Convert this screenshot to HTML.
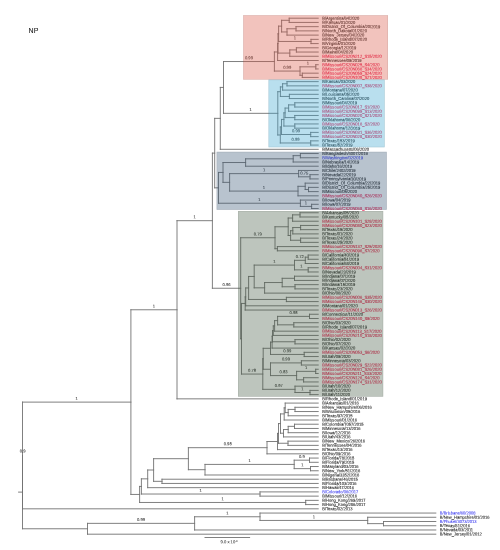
<!DOCTYPE html><html><head><meta charset="utf-8"><style>html,body{margin:0;padding:0;background:#fff;width:500px;height:550px;overflow:hidden}svg{display:block}text{font-family:"Liberation Sans",Arial,sans-serif}</style></head><body>
<svg width="500" height="550" viewBox="0 0 500 550">
<rect width="500" height="550" fill="#fff"/>
<text x="28.6" y="33.2" font-size="7" fill="#2a2a2a" stroke="#2a2a2a" stroke-width="0.15">NP</text>
<g stroke="#727272" stroke-width="0.9" stroke-linecap="square" fill="none">
<path d="M18.60 492.12L22.50 492.12"/>
<path d="M22.50 455.47L22.50 528.78"/>
<path d="M22.50 402.11L22.50 508.82"/>
<path d="M22.50 402.11L130.90 402.11"/>
<path d="M130.90 309.77L130.90 494.45"/>
<path d="M130.90 309.77L177.00 309.77"/>
<path d="M177.00 220.68L177.00 398.85"/>
<path d="M177.00 220.68L212.40 220.68"/>
<path d="M212.40 153.11L212.40 288.25"/>
<path d="M212.40 153.11L214.70 153.11"/>
<path d="M214.70 118.37L214.70 187.84"/>
<path d="M214.70 118.37L220.30 118.37"/>
<path d="M220.30 87.43L220.30 149.31"/>
<path d="M220.30 87.43L223.50 87.43"/>
<path d="M223.50 61.52L223.50 113.33"/>
<path d="M223.50 61.52L274.40 61.52"/>
<path d="M274.40 51.97L274.40 71.07"/>
<path d="M274.40 51.97L277.60 51.97"/>
<path d="M277.60 43.44L277.60 60.50"/>
<path d="M277.60 43.44L278.00 43.44"/>
<path d="M278.00 33.80L278.00 53.09"/>
<path d="M278.00 33.80L278.60 33.80"/>
<path d="M278.60 26.13L278.60 41.46"/>
<path d="M278.60 26.13L281.60 26.13"/>
<path d="M281.60 20.31L281.60 31.95"/>
<path d="M281.60 20.31L289.20 20.31"/>
<path d="M289.20 18.20L289.20 22.43"/>
<path d="M289.20 18.20L318.20 18.20"/>
<path d="M289.20 22.43L318.20 22.43"/>
<path d="M281.60 31.95L287.00 31.95"/>
<path d="M287.00 28.77L287.00 35.12"/>
<path d="M287.00 28.77L296.00 28.77"/>
<path d="M296.00 26.66L296.00 30.89"/>
<path d="M296.00 26.66L318.20 26.66"/>
<path d="M296.00 30.89L318.20 30.89"/>
<path d="M287.00 35.12L318.20 35.12"/>
<path d="M278.60 41.46L311.00 41.46"/>
<path d="M311.00 39.35L311.00 43.58"/>
<path d="M311.00 39.35L318.20 39.35"/>
<path d="M311.00 43.58L318.20 43.58"/>
<path d="M278.00 53.09L289.80 53.09"/>
<path d="M289.80 49.92L289.80 56.27"/>
<path d="M289.80 49.92L296.40 49.92"/>
<path d="M296.40 47.81L296.40 52.04"/>
<path d="M296.40 47.81L318.20 47.81"/>
<path d="M296.40 52.04L318.20 52.04"/>
<path d="M289.80 56.27L318.20 56.27"/>
<path d="M277.60 60.50L318.20 60.50"/>
<path d="M274.40 71.07L300.00 71.07"/>
<path d="M300.00 66.84L300.00 75.30"/>
<path d="M300.00 66.84L315.80 66.84"/>
<path d="M315.80 64.72L315.80 68.95"/>
<path d="M315.80 64.72L318.20 64.72"/>
<path d="M315.80 68.95L318.20 68.95"/>
<path d="M300.00 75.30L302.30 75.30"/>
<path d="M302.30 73.18L302.30 77.41"/>
<path d="M302.30 73.18L318.20 73.18"/>
<path d="M302.30 77.41L318.20 77.41"/>
<path d="M223.50 113.33L277.80 113.33"/>
<path d="M277.80 91.69L277.80 134.97"/>
<path d="M277.80 91.69L280.40 91.69"/>
<path d="M280.40 86.93L280.40 96.45"/>
<path d="M280.40 86.93L282.60 86.93"/>
<path d="M282.60 83.76L282.60 90.10"/>
<path d="M282.60 83.76L287.00 83.76"/>
<path d="M287.00 81.64L287.00 85.87"/>
<path d="M287.00 81.64L318.20 81.64"/>
<path d="M287.00 85.87L318.20 85.87"/>
<path d="M282.60 90.10L318.20 90.10"/>
<path d="M280.40 96.45L289.40 96.45"/>
<path d="M289.40 94.33L289.40 98.56"/>
<path d="M289.40 94.33L318.20 94.33"/>
<path d="M289.40 98.56L318.20 98.56"/>
<path d="M277.80 134.97L280.30 134.97"/>
<path d="M280.30 126.98L280.30 142.97"/>
<path d="M280.30 126.98L281.50 126.98"/>
<path d="M281.50 119.44L281.50 134.51"/>
<path d="M281.50 119.44L283.90 119.44"/>
<path d="M283.90 112.84L283.90 126.05"/>
<path d="M283.90 112.84L285.10 112.84"/>
<path d="M285.10 108.08L285.10 117.59"/>
<path d="M285.10 108.08L288.60 108.08"/>
<path d="M288.60 104.90L288.60 111.25"/>
<path d="M288.60 104.90L294.80 104.90"/>
<path d="M294.80 102.79L294.80 107.02"/>
<path d="M294.80 102.79L318.20 102.79"/>
<path d="M294.80 107.02L318.20 107.02"/>
<path d="M288.60 111.25L318.20 111.25"/>
<path d="M285.10 117.59L294.80 117.59"/>
<path d="M294.80 115.48L294.80 119.71"/>
<path d="M294.80 115.48L318.20 115.48"/>
<path d="M294.80 119.71L318.20 119.71"/>
<path d="M283.90 126.05L294.80 126.05"/>
<path d="M294.80 123.94L294.80 128.17"/>
<path d="M294.80 123.94L318.20 123.94"/>
<path d="M294.80 128.17L318.20 128.17"/>
<path d="M281.50 134.51L310.70 134.51"/>
<path d="M310.70 132.40L310.70 136.63"/>
<path d="M310.70 132.40L318.20 132.40"/>
<path d="M310.70 136.63L318.20 136.63"/>
<path d="M280.30 142.97L310.70 142.97"/>
<path d="M310.70 140.86L310.70 145.08"/>
<path d="M310.70 140.86L318.20 140.86"/>
<path d="M310.70 145.08L318.20 145.08"/>
<path d="M220.30 149.31L318.20 149.31"/>
<path d="M214.70 187.84L218.50 187.84"/>
<path d="M218.50 172.44L218.50 203.24"/>
<path d="M218.50 172.44L223.00 172.44"/>
<path d="M223.00 162.53L223.00 182.36"/>
<path d="M223.00 162.53L245.60 162.53"/>
<path d="M245.60 158.83L245.60 166.23"/>
<path d="M245.60 158.83L293.20 158.83"/>
<path d="M293.20 155.66L293.20 162.00"/>
<path d="M293.20 155.66L300.40 155.66"/>
<path d="M300.40 153.54L300.40 157.77"/>
<path d="M300.40 153.54L318.20 153.54"/>
<path d="M300.40 157.77L318.20 157.77"/>
<path d="M293.20 162.00L318.20 162.00"/>
<path d="M245.60 166.23L318.20 166.23"/>
<path d="M223.00 182.36L229.60 182.36"/>
<path d="M229.60 173.63L229.60 191.08"/>
<path d="M229.60 173.63L298.60 173.63"/>
<path d="M298.60 170.46L298.60 176.81"/>
<path d="M298.60 170.46L318.20 170.46"/>
<path d="M298.60 176.81L310.00 176.81"/>
<path d="M310.00 174.69L310.00 178.92"/>
<path d="M310.00 174.69L318.20 174.69"/>
<path d="M310.00 178.92L318.20 178.92"/>
<path d="M229.60 191.08L298.00 191.08"/>
<path d="M298.00 186.32L298.00 195.84"/>
<path d="M298.00 186.32L305.20 186.32"/>
<path d="M305.20 183.15L305.20 189.49"/>
<path d="M305.20 183.15L318.20 183.15"/>
<path d="M305.20 189.49L308.50 189.49"/>
<path d="M308.50 187.38L308.50 191.61"/>
<path d="M308.50 187.38L318.20 187.38"/>
<path d="M308.50 191.61L318.20 191.61"/>
<path d="M298.00 195.84L318.20 195.84"/>
<path d="M218.50 203.24L300.40 203.24"/>
<path d="M300.40 200.07L300.40 206.41"/>
<path d="M300.40 200.07L318.20 200.07"/>
<path d="M300.40 206.41L311.60 206.41"/>
<path d="M311.60 204.30L311.60 208.53"/>
<path d="M311.60 204.30L318.20 204.30"/>
<path d="M311.60 208.53L318.20 208.53"/>
<path d="M212.40 288.25L240.70 288.25"/>
<path d="M240.70 237.74L240.70 338.76"/>
<path d="M240.70 237.74L275.00 237.74"/>
<path d="M275.00 226.77L275.00 248.71"/>
<path d="M275.00 226.77L288.20 226.77"/>
<path d="M288.20 218.04L288.20 235.49"/>
<path d="M288.20 218.04L292.60 218.04"/>
<path d="M292.60 214.87L292.60 221.22"/>
<path d="M292.60 214.87L300.00 214.87"/>
<path d="M300.00 212.76L300.00 216.99"/>
<path d="M300.00 212.76L318.20 212.76"/>
<path d="M300.00 216.99L318.20 216.99"/>
<path d="M292.60 221.22L318.20 221.22"/>
<path d="M288.20 235.49L290.60 235.49"/>
<path d="M290.60 230.73L290.60 240.25"/>
<path d="M290.60 230.73L292.80 230.73"/>
<path d="M292.80 227.56L292.80 233.90"/>
<path d="M292.80 227.56L300.60 227.56"/>
<path d="M300.60 225.45L300.60 229.67"/>
<path d="M300.60 225.45L318.20 225.45"/>
<path d="M300.60 229.67L318.20 229.67"/>
<path d="M292.80 233.90L318.20 233.90"/>
<path d="M290.60 240.25L300.60 240.25"/>
<path d="M300.60 238.13L300.60 242.36"/>
<path d="M300.60 238.13L318.20 238.13"/>
<path d="M300.60 242.36L318.20 242.36"/>
<path d="M275.00 248.71L277.40 248.71"/>
<path d="M277.40 246.59L277.40 250.82"/>
<path d="M277.40 246.59L318.20 246.59"/>
<path d="M277.40 250.82L318.20 250.82"/>
<path d="M240.70 338.76L241.50 338.76"/>
<path d="M241.50 303.46L241.50 374.06"/>
<path d="M241.50 303.46L245.20 303.46"/>
<path d="M245.20 296.88L245.20 310.04"/>
<path d="M245.20 296.88L245.70 296.88"/>
<path d="M245.70 287.96L245.70 305.81"/>
<path d="M245.70 287.96L248.60 287.96"/>
<path d="M248.60 276.46L248.60 299.46"/>
<path d="M248.60 276.46L254.20 276.46"/>
<path d="M254.20 265.10L254.20 287.83"/>
<path d="M254.20 265.10L294.50 265.10"/>
<path d="M294.50 260.34L294.50 269.86"/>
<path d="M294.50 260.34L305.30 260.34"/>
<path d="M305.30 257.17L305.30 263.51"/>
<path d="M305.30 257.17L308.20 257.17"/>
<path d="M308.20 255.05L308.20 259.28"/>
<path d="M308.20 255.05L318.20 255.05"/>
<path d="M308.20 259.28L318.20 259.28"/>
<path d="M305.30 263.51L318.20 263.51"/>
<path d="M294.50 269.86L308.20 269.86"/>
<path d="M308.20 267.74L308.20 271.97"/>
<path d="M308.20 267.74L318.20 267.74"/>
<path d="M308.20 271.97L318.20 271.97"/>
<path d="M254.20 287.83L264.60 287.83"/>
<path d="M264.60 282.54L264.60 293.12"/>
<path d="M264.60 282.54L282.20 282.54"/>
<path d="M282.20 278.31L282.20 286.77"/>
<path d="M282.20 278.31L294.50 278.31"/>
<path d="M294.50 276.20L294.50 280.43"/>
<path d="M294.50 276.20L318.20 276.20"/>
<path d="M294.50 280.43L318.20 280.43"/>
<path d="M282.20 286.77L295.00 286.77"/>
<path d="M295.00 284.66L295.00 288.89"/>
<path d="M295.00 284.66L318.20 284.66"/>
<path d="M295.00 288.89L318.20 288.89"/>
<path d="M264.60 293.12L318.20 293.12"/>
<path d="M248.60 299.46L286.40 299.46"/>
<path d="M286.40 297.35L286.40 301.58"/>
<path d="M286.40 297.35L318.20 297.35"/>
<path d="M286.40 301.58L318.20 301.58"/>
<path d="M245.70 305.81L318.20 305.81"/>
<path d="M245.20 310.04L318.20 310.04"/>
<path d="M241.50 374.06L262.80 374.06"/>
<path d="M262.80 358.77L262.80 389.34"/>
<path d="M262.80 358.77L263.20 358.77"/>
<path d="M263.20 348.30L263.20 369.25"/>
<path d="M263.20 348.30L270.50 348.30"/>
<path d="M270.50 342.15L270.50 354.45"/>
<path d="M270.50 342.15L272.10 342.15"/>
<path d="M272.10 336.21L272.10 348.10"/>
<path d="M272.10 336.21L272.50 336.21"/>
<path d="M272.50 330.65L272.50 341.76"/>
<path d="M272.50 330.65L273.30 330.65"/>
<path d="M273.30 325.90L273.30 335.41"/>
<path d="M273.30 325.90L274.60 325.90"/>
<path d="M274.60 320.61L274.60 331.18"/>
<path d="M274.60 320.61L277.60 320.61"/>
<path d="M277.60 316.38L277.60 324.84"/>
<path d="M277.60 316.38L309.50 316.38"/>
<path d="M309.50 314.26L309.50 318.49"/>
<path d="M309.50 314.26L318.20 314.26"/>
<path d="M309.50 318.49L318.20 318.49"/>
<path d="M277.60 324.84L293.80 324.84"/>
<path d="M293.80 322.72L293.80 326.95"/>
<path d="M293.80 322.72L318.20 322.72"/>
<path d="M293.80 326.95L318.20 326.95"/>
<path d="M274.60 331.18L318.20 331.18"/>
<path d="M273.30 335.41L318.20 335.41"/>
<path d="M272.50 341.76L295.00 341.76"/>
<path d="M295.00 339.64L295.00 343.87"/>
<path d="M295.00 339.64L318.20 339.64"/>
<path d="M295.00 343.87L318.20 343.87"/>
<path d="M272.10 348.10L318.20 348.10"/>
<path d="M270.50 354.45L304.20 354.45"/>
<path d="M304.20 352.33L304.20 356.56"/>
<path d="M304.20 352.33L318.20 352.33"/>
<path d="M304.20 356.56L318.20 356.56"/>
<path d="M263.20 369.25L270.50 369.25"/>
<path d="M270.50 362.90L270.50 375.59"/>
<path d="M270.50 362.90L301.40 362.90"/>
<path d="M301.40 360.79L301.40 365.02"/>
<path d="M301.40 360.79L318.20 360.79"/>
<path d="M301.40 365.02L318.20 365.02"/>
<path d="M270.50 375.59L296.60 375.59"/>
<path d="M296.60 371.36L296.60 379.82"/>
<path d="M296.60 371.36L315.70 371.36"/>
<path d="M315.70 369.25L315.70 373.48"/>
<path d="M315.70 369.25L318.20 369.25"/>
<path d="M315.70 373.48L318.20 373.48"/>
<path d="M296.60 379.82L303.60 379.82"/>
<path d="M303.60 377.71L303.60 381.94"/>
<path d="M303.60 377.71L318.20 377.71"/>
<path d="M303.60 381.94L318.20 381.94"/>
<path d="M262.80 389.34L295.00 389.34"/>
<path d="M295.00 386.17L295.00 392.51"/>
<path d="M295.00 386.17L318.20 386.17"/>
<path d="M295.00 392.51L310.00 392.51"/>
<path d="M310.00 390.40L310.00 394.63"/>
<path d="M310.00 390.40L318.20 390.40"/>
<path d="M310.00 394.63L318.20 394.63"/>
<path d="M177.00 398.85L318.20 398.85"/>
<path d="M130.90 494.45L139.60 494.45"/>
<path d="M139.60 486.43L139.60 502.48"/>
<path d="M139.60 486.43L141.40 486.43"/>
<path d="M141.40 478.84L141.40 494.02"/>
<path d="M141.40 478.84L147.70 478.84"/>
<path d="M147.70 470.01L147.70 487.67"/>
<path d="M147.70 470.01L153.60 470.01"/>
<path d="M153.60 458.69L153.60 481.33"/>
<path d="M153.60 458.69L188.40 458.69"/>
<path d="M188.40 447.68L188.40 469.70"/>
<path d="M188.40 447.68L267.00 447.68"/>
<path d="M267.00 441.51L267.00 453.84"/>
<path d="M267.00 441.51L277.50 441.51"/>
<path d="M277.50 433.42L277.50 449.61"/>
<path d="M277.50 433.42L278.50 433.42"/>
<path d="M278.50 423.57L278.50 443.26"/>
<path d="M278.50 423.57L280.50 423.57"/>
<path d="M280.50 413.92L280.50 433.22"/>
<path d="M280.50 413.92L284.20 413.92"/>
<path d="M284.20 407.84L284.20 420.00"/>
<path d="M284.20 407.84L285.20 407.84"/>
<path d="M285.20 403.08L285.20 412.60"/>
<path d="M285.20 403.08L318.20 403.08"/>
<path d="M285.20 412.60L288.20 412.60"/>
<path d="M288.20 409.43L288.20 415.77"/>
<path d="M288.20 409.43L295.00 409.43"/>
<path d="M295.00 407.31L295.00 411.54"/>
<path d="M295.00 407.31L318.20 407.31"/>
<path d="M295.00 411.54L318.20 411.54"/>
<path d="M288.20 415.77L318.20 415.77"/>
<path d="M284.20 420.00L318.20 420.00"/>
<path d="M280.50 433.22L283.50 433.22"/>
<path d="M283.50 429.52L283.50 436.92"/>
<path d="M283.50 429.52L288.20 429.52"/>
<path d="M288.20 426.35L288.20 432.69"/>
<path d="M288.20 426.35L294.50 426.35"/>
<path d="M294.50 424.23L294.50 428.46"/>
<path d="M294.50 424.23L318.20 424.23"/>
<path d="M294.50 428.46L318.20 428.46"/>
<path d="M288.20 432.69L318.20 432.69"/>
<path d="M283.50 436.92L318.20 436.92"/>
<path d="M278.50 443.26L288.00 443.26"/>
<path d="M288.00 441.15L288.00 445.38"/>
<path d="M288.00 441.15L318.20 441.15"/>
<path d="M288.00 445.38L318.20 445.38"/>
<path d="M277.50 449.61L318.20 449.61"/>
<path d="M267.00 453.84L318.20 453.84"/>
<path d="M188.40 469.70L205.00 469.70"/>
<path d="M205.00 464.41L205.00 474.99"/>
<path d="M205.00 464.41L294.20 464.41"/>
<path d="M294.20 460.18L294.20 468.64"/>
<path d="M294.20 460.18L309.50 460.18"/>
<path d="M309.50 458.07L309.50 462.30"/>
<path d="M309.50 458.07L318.20 458.07"/>
<path d="M309.50 462.30L318.20 462.30"/>
<path d="M294.20 468.64L310.50 468.64"/>
<path d="M310.50 466.53L310.50 470.76"/>
<path d="M310.50 466.53L318.20 466.53"/>
<path d="M310.50 470.76L318.20 470.76"/>
<path d="M205.00 474.99L318.20 474.99"/>
<path d="M153.60 481.33L162.00 481.33"/>
<path d="M162.00 479.22L162.00 483.44"/>
<path d="M162.00 479.22L318.20 479.22"/>
<path d="M162.00 483.44L318.20 483.44"/>
<path d="M147.70 487.67L318.20 487.67"/>
<path d="M141.40 494.02L260.00 494.02"/>
<path d="M260.00 491.90L260.00 496.13"/>
<path d="M260.00 491.90L318.20 491.90"/>
<path d="M260.00 496.13L318.20 496.13"/>
<path d="M139.60 502.48L305.70 502.48"/>
<path d="M305.70 500.36L305.70 504.59"/>
<path d="M305.70 500.36L318.20 500.36"/>
<path d="M305.70 504.59L318.20 504.59"/>
<path d="M22.50 508.82L318.20 508.82"/>
<path d="M22.50 528.78L87.50 528.78"/>
<path d="M87.50 523.36L87.50 534.20"/>
<path d="M87.50 523.36L194.60 523.36"/>
<path d="M194.60 516.75L194.60 529.97"/>
<path d="M194.60 516.75L260.00 516.75"/>
<path d="M260.00 513.05L260.00 520.45"/>
<path d="M260.00 513.05L435.80 513.05"/>
<path d="M260.00 520.45L367.70 520.45"/>
<path d="M367.70 517.28L367.70 523.63"/>
<path d="M367.70 517.28L435.80 517.28"/>
<path d="M367.70 523.63L383.50 523.63"/>
<path d="M383.50 521.51L383.50 525.74"/>
<path d="M383.50 521.51L435.80 521.51"/>
<path d="M383.50 525.74L435.80 525.74"/>
<path d="M194.60 529.97L435.80 529.97"/>
<path d="M87.50 534.20L435.80 534.20"/>
<path d="M205 537.5L249.6 537.5"/>
</g>
<g font-size="4.15" fill="#333" stroke="#333" stroke-width="0.06" text-anchor="middle" transform="matrix(1 0.0005 0 1 0 -0.13)">
<text x="76.70" y="399.81">1</text>
<text x="153.95" y="307.47">1</text>
<text x="194.70" y="218.38">1</text>
<text x="248.95" y="59.22">0.99</text>
<text x="294.80" y="39.16">1</text>
<text x="287.20" y="68.77">0.99</text>
<text x="307.90" y="64.54">1</text>
<text x="250.65" y="111.03">1</text>
<text x="296.10" y="132.21">0.99</text>
<text x="295.50" y="140.67">0.99</text>
<text x="264.10" y="171.33">1</text>
<text x="304.30" y="174.51">0.75</text>
<text x="263.80" y="188.78">1</text>
<text x="259.45" y="200.94">1</text>
<text x="306.00" y="204.11">1</text>
<text x="226.55" y="285.95">0.96</text>
<text x="257.85" y="235.44">0.79</text>
<text x="274.35" y="262.80">1</text>
<text x="299.90" y="258.04">0.72</text>
<text x="301.35" y="267.56">1</text>
<text x="252.15" y="371.76">0.78</text>
<text x="293.55" y="314.08">0.98</text>
<text x="287.35" y="352.15">0.99</text>
<text x="285.95" y="360.60">0.99</text>
<text x="283.55" y="373.29">0.83</text>
<text x="306.15" y="369.06">1</text>
<text x="278.90" y="387.04">0.97</text>
<text x="302.50" y="390.21">1</text>
<text x="227.70" y="445.38">0.98</text>
<text x="249.60" y="462.11">1</text>
<text x="301.85" y="457.88">0.9</text>
<text x="302.35" y="466.34">1</text>
<text x="200.70" y="491.72">1</text>
<text x="222.65" y="500.18">1</text>
<text x="141.05" y="521.06">0.99</text>
<text x="227.30" y="514.45">1</text>
<text x="313.85" y="518.15">1</text>
<text x="22.6" y="452.70">0.9</text>
<text x="229" y="543.20">9.0 x 10<tspan font-size="2.6" dy="-1.3">-3</tspan></text>
</g>
<g font-size="4.35" stroke-width="0.08">
<text transform="matrix(0.935 0.0005 0 1 322.2 19.64)" fill="#222" stroke="#222">B/Argentina/64/2020</text>
<text transform="matrix(0.935 0.0005 0 1 322.2 23.87)" fill="#222" stroke="#222">B/Kansas/01/2020</text>
<text transform="matrix(0.935 0.0005 0 1 322.2 28.10)" fill="#222" stroke="#222">B/District_Of_Columbia/20/2019</text>
<text transform="matrix(0.935 0.0005 0 1 322.2 32.33)" fill="#222" stroke="#222">B/North_Dakota/01/2020</text>
<text transform="matrix(0.935 0.0005 0 1 322.2 36.56)" fill="#222" stroke="#222">B/New_Jersey/04/2020</text>
<text transform="matrix(0.935 0.0005 0 1 322.2 40.79)" fill="#222" stroke="#222">B/Rhode_Island/07/2020</text>
<text transform="matrix(0.935 0.0005 0 1 322.2 45.02)" fill="#222" stroke="#222">B/Virginia/01/2020</text>
<text transform="matrix(0.935 0.0005 0 1 322.2 49.25)" fill="#222" stroke="#222">B/Georgia/12/2019</text>
<text transform="matrix(0.935 0.0005 0 1 322.2 53.47)" fill="#222" stroke="#222">B/Maine/04/2020</text>
<text transform="matrix(0.935 0.0005 0 1 322.2 57.70)" fill="#e61446" stroke="#e61446">B/Missouri/CS20N212_S15/2020</text>
<text transform="matrix(0.935 0.0005 0 1 322.2 61.93)" fill="#222" stroke="#222">B/Tennessee/09/2019</text>
<text transform="matrix(0.935 0.0005 0 1 322.2 66.16)" fill="#e61446" stroke="#e61446">B/Missouri/CS20N025_S4/2020</text>
<text transform="matrix(0.935 0.0005 0 1 322.2 70.39)" fill="#e61446" stroke="#e61446">B/Missouri/CS20N066_S34/2020</text>
<text transform="matrix(0.935 0.0005 0 1 322.2 74.62)" fill="#e61446" stroke="#e61446">B/Missouri/CS20N055_S24/2020</text>
<text transform="matrix(0.935 0.0005 0 1 322.2 78.85)" fill="#e61446" stroke="#e61446">B/Missouri/CS20N108_S27/2020</text>
<text transform="matrix(0.935 0.0005 0 1 322.2 83.08)" fill="#222" stroke="#222">B/Kansas/03/2020</text>
<text transform="matrix(0.935 0.0005 0 1 322.2 87.31)" fill="#e61446" stroke="#e61446">B/Missouri/CS20N007_S38/2020</text>
<text transform="matrix(0.935 0.0005 0 1 322.2 91.54)" fill="#222" stroke="#222">B/Montana/07/2020</text>
<text transform="matrix(0.935 0.0005 0 1 322.2 95.77)" fill="#222" stroke="#222">B/Louisiana/05/2020</text>
<text transform="matrix(0.935 0.0005 0 1 322.2 100.00)" fill="#222" stroke="#222">B/North_Carolina/07/2020</text>
<text transform="matrix(0.935 0.0005 0 1 322.2 104.23)" fill="#222" stroke="#222">B/Missouri/04/2019</text>
<text transform="matrix(0.935 0.0005 0 1 322.2 108.46)" fill="#e61446" stroke="#e61446">B/Missouri/CS20N017_S1/2020</text>
<text transform="matrix(0.935 0.0005 0 1 322.2 112.69)" fill="#e61446" stroke="#e61446">B/Missouri/CS20N095_S13/2020</text>
<text transform="matrix(0.935 0.0005 0 1 322.2 116.92)" fill="#e61446" stroke="#e61446">B/Missouri/CS20N020_S21/2020</text>
<text transform="matrix(0.935 0.0005 0 1 322.2 121.15)" fill="#222" stroke="#222">B/Oklahoma/06/2020</text>
<text transform="matrix(0.935 0.0005 0 1 322.2 125.38)" fill="#e61446" stroke="#e61446">B/Missouri/CS20N016_S2/2020</text>
<text transform="matrix(0.935 0.0005 0 1 322.2 129.61)" fill="#222" stroke="#222">B/Oklahoma/12/2019</text>
<text transform="matrix(0.935 0.0005 0 1 322.2 133.84)" fill="#e61446" stroke="#e61446">B/Missouri/CS20N031_S36/2020</text>
<text transform="matrix(0.935 0.0005 0 1 322.2 138.06)" fill="#e61446" stroke="#e61446">B/Missouri/CS20N028_S30/2020</text>
<text transform="matrix(0.935 0.0005 0 1 322.2 142.29)" fill="#222" stroke="#222">B/Texas/153/2019</text>
<text transform="matrix(0.935 0.0005 0 1 322.2 146.52)" fill="#222" stroke="#222">B/Texas/52/2019</text>
<text transform="matrix(0.935 0.0005 0 1 322.2 150.75)" fill="#222" stroke="#222">B/Massachusetts/06/2020</text>
<text transform="matrix(0.935 0.0005 0 1 322.2 154.98)" fill="#222" stroke="#222">B/Bangladesh/4007/2019</text>
<text transform="matrix(0.935 0.0005 0 1 322.2 159.21)" fill="#3c3cf0" stroke="#3c3cf0">B/Washington/02/2019</text>
<text transform="matrix(0.935 0.0005 0 1 322.2 163.44)" fill="#222" stroke="#222">B/Nebraska/14/2019</text>
<text transform="matrix(0.935 0.0005 0 1 322.2 167.67)" fill="#222" stroke="#222">B/Idaho/16/2019</text>
<text transform="matrix(0.935 0.0005 0 1 322.2 171.90)" fill="#222" stroke="#222">B/Chile/2402/2019</text>
<text transform="matrix(0.935 0.0005 0 1 322.2 176.13)" fill="#222" stroke="#222">B/Nevada/22/2019</text>
<text transform="matrix(0.935 0.0005 0 1 322.2 180.36)" fill="#222" stroke="#222">B/Pennsylvania/30/2019</text>
<text transform="matrix(0.935 0.0005 0 1 322.2 184.59)" fill="#222" stroke="#222">B/District_Of_Columbia/22/2019</text>
<text transform="matrix(0.935 0.0005 0 1 322.2 188.82)" fill="#222" stroke="#222">B/District_Of_Columbia/25/2019</text>
<text transform="matrix(0.935 0.0005 0 1 322.2 193.05)" fill="#222" stroke="#222">B/Missouri/05/2020</text>
<text transform="matrix(0.935 0.0005 0 1 322.2 197.28)" fill="#e61446" stroke="#e61446">B/Missouri/CS20N040_S26/2020</text>
<text transform="matrix(0.935 0.0005 0 1 322.2 201.51)" fill="#222" stroke="#222">B/Iowa/04/2019</text>
<text transform="matrix(0.935 0.0005 0 1 322.2 205.74)" fill="#222" stroke="#222">B/Iowa/07/2019</text>
<text transform="matrix(0.935 0.0005 0 1 322.2 209.97)" fill="#e61446" stroke="#e61446">B/Missouri/CS20N068_S16/2020</text>
<text transform="matrix(0.935 0.0005 0 1 322.2 214.20)" fill="#222" stroke="#222">B/Arkansas/05/2020</text>
<text transform="matrix(0.935 0.0005 0 1 322.2 218.43)" fill="#222" stroke="#222">B/Kentucky/05/2020</text>
<text transform="matrix(0.935 0.0005 0 1 322.2 222.65)" fill="#e61446" stroke="#e61446">B/Missouri/CS20N101_S28/2020</text>
<text transform="matrix(0.935 0.0005 0 1 322.2 226.88)" fill="#e61446" stroke="#e61446">B/Missouri/CS20N080_S23/2020</text>
<text transform="matrix(0.935 0.0005 0 1 322.2 231.11)" fill="#222" stroke="#222">B/Texas/15/2020</text>
<text transform="matrix(0.935 0.0005 0 1 322.2 235.34)" fill="#222" stroke="#222">B/Texas/01/2020</text>
<text transform="matrix(0.935 0.0005 0 1 322.2 239.57)" fill="#222" stroke="#222">B/Texas/24/2020</text>
<text transform="matrix(0.935 0.0005 0 1 322.2 243.80)" fill="#222" stroke="#222">B/Texas/25/2020</text>
<text transform="matrix(0.935 0.0005 0 1 322.2 248.03)" fill="#e61446" stroke="#e61446">B/Missouri/CS20N137_S25/2020</text>
<text transform="matrix(0.935 0.0005 0 1 322.2 252.26)" fill="#e61446" stroke="#e61446">B/Missouri/CS20N096_S7/2020</text>
<text transform="matrix(0.935 0.0005 0 1 322.2 256.49)" fill="#222" stroke="#222">B/California/40/2019</text>
<text transform="matrix(0.935 0.0005 0 1 322.2 260.72)" fill="#222" stroke="#222">B/California/51/2019</text>
<text transform="matrix(0.935 0.0005 0 1 322.2 264.95)" fill="#222" stroke="#222">B/California/68/2019</text>
<text transform="matrix(0.935 0.0005 0 1 322.2 269.18)" fill="#e61446" stroke="#e61446">B/Missouri/CS20N004_S31/2020</text>
<text transform="matrix(0.935 0.0005 0 1 322.2 273.41)" fill="#222" stroke="#222">B/Nevada/23/2019</text>
<text transform="matrix(0.935 0.0005 0 1 322.2 277.64)" fill="#222" stroke="#222">B/Indiana/07/2019</text>
<text transform="matrix(0.935 0.0005 0 1 322.2 281.87)" fill="#222" stroke="#222">B/Indiana/07/2020</text>
<text transform="matrix(0.935 0.0005 0 1 322.2 286.10)" fill="#222" stroke="#222">B/Indiana/15/2019</text>
<text transform="matrix(0.935 0.0005 0 1 322.2 290.33)" fill="#222" stroke="#222">B/Texas/23/2020</text>
<text transform="matrix(0.935 0.0005 0 1 322.2 294.56)" fill="#222" stroke="#222">B/Ohio/06/2020</text>
<text transform="matrix(0.935 0.0005 0 1 322.2 298.79)" fill="#e61446" stroke="#e61446">B/Missouri/CS20N006_S35/2020</text>
<text transform="matrix(0.935 0.0005 0 1 322.2 303.02)" fill="#e61446" stroke="#e61446">B/Missouri/CS20N146_S30/2020</text>
<text transform="matrix(0.935 0.0005 0 1 322.2 307.24)" fill="#222" stroke="#222">B/Montana/01/2020</text>
<text transform="matrix(0.935 0.0005 0 1 322.2 311.47)" fill="#e61446" stroke="#e61446">B/Missouri/CS20N013_S26/2020</text>
<text transform="matrix(0.935 0.0005 0 1 322.2 315.70)" fill="#222" stroke="#222">B/Connecticut/11/2020</text>
<text transform="matrix(0.935 0.0005 0 1 322.2 319.93)" fill="#e61446" stroke="#e61446">B/Missouri/CS20N140_S9/2020</text>
<text transform="matrix(0.935 0.0005 0 1 322.2 324.16)" fill="#222" stroke="#222">B/Ohio/03/2020</text>
<text transform="matrix(0.935 0.0005 0 1 322.2 328.39)" fill="#222" stroke="#222">B/Rhode_Island/07/2019</text>
<text transform="matrix(0.935 0.0005 0 1 322.2 332.62)" fill="#e61446" stroke="#e61446">B/Missouri/CS20N113_S17/2020</text>
<text transform="matrix(0.935 0.0005 0 1 322.2 336.85)" fill="#e61446" stroke="#e61446">B/Missouri/CS20N210_S18/2020</text>
<text transform="matrix(0.935 0.0005 0 1 322.2 341.08)" fill="#222" stroke="#222">B/Ohio/02/2020</text>
<text transform="matrix(0.935 0.0005 0 1 322.2 345.31)" fill="#222" stroke="#222">B/Ohio/07/2020</text>
<text transform="matrix(0.935 0.0005 0 1 322.2 349.54)" fill="#222" stroke="#222">B/Kansas/02/2020</text>
<text transform="matrix(0.935 0.0005 0 1 322.2 353.77)" fill="#e61446" stroke="#e61446">B/Missouri/CS20N053_S6/2020</text>
<text transform="matrix(0.935 0.0005 0 1 322.2 358.00)" fill="#222" stroke="#222">B/Utah/09/2020</text>
<text transform="matrix(0.935 0.0005 0 1 322.2 362.23)" fill="#222" stroke="#222">B/Minnesota/03/2020</text>
<text transform="matrix(0.935 0.0005 0 1 322.2 366.46)" fill="#e61446" stroke="#e61446">B/Missouri/CS20N029_S22/2020</text>
<text transform="matrix(0.935 0.0005 0 1 322.2 370.69)" fill="#e61446" stroke="#e61446">B/Missouri/CS20N081_S26/2020</text>
<text transform="matrix(0.935 0.0005 0 1 322.2 374.92)" fill="#e61446" stroke="#e61446">B/Missouri/CS20N211_S33/2020</text>
<text transform="matrix(0.935 0.0005 0 1 322.2 379.15)" fill="#e61446" stroke="#e61446">B/Missouri/CS20N126_S4/2020</text>
<text transform="matrix(0.935 0.0005 0 1 322.2 383.38)" fill="#e61446" stroke="#e61446">B/Missouri/CS20N174_S31/2020</text>
<text transform="matrix(0.935 0.0005 0 1 322.2 387.61)" fill="#222" stroke="#222">B/Utah/10/2020</text>
<text transform="matrix(0.935 0.0005 0 1 322.2 391.83)" fill="#222" stroke="#222">B/Utah/12/2020</text>
<text transform="matrix(0.935 0.0005 0 1 322.2 396.06)" fill="#222" stroke="#222">B/Utah/11/2020</text>
<text transform="matrix(0.935 0.0005 0 1 322.2 400.29)" fill="#222" stroke="#222">B/Rhode_Island/01/2019</text>
<text transform="matrix(0.935 0.0005 0 1 322.2 404.52)" fill="#222" stroke="#222">B/Arkansas/01/2016</text>
<text transform="matrix(0.935 0.0005 0 1 322.2 408.75)" fill="#222" stroke="#222">B/New_Hampshire/06/2016</text>
<text transform="matrix(0.935 0.0005 0 1 322.2 412.98)" fill="#222" stroke="#222">B/Wisconsin/05/2016</text>
<text transform="matrix(0.935 0.0005 0 1 322.2 417.21)" fill="#222" stroke="#222">B/Texas/97/2015</text>
<text transform="matrix(0.935 0.0005 0 1 322.2 421.44)" fill="#222" stroke="#222">B/Missouri/01/2016</text>
<text transform="matrix(0.935 0.0005 0 1 322.2 425.67)" fill="#222" stroke="#222">B/Colombia/7057/2015</text>
<text transform="matrix(0.935 0.0005 0 1 322.2 429.90)" fill="#222" stroke="#222">B/Minnesota/13/2016</text>
<text transform="matrix(0.935 0.0005 0 1 322.2 434.13)" fill="#222" stroke="#222">B/Iowa/12/2016</text>
<text transform="matrix(0.935 0.0005 0 1 322.2 438.36)" fill="#222" stroke="#222">B/Utah/43/2016</text>
<text transform="matrix(0.935 0.0005 0 1 322.2 442.59)" fill="#222" stroke="#222">B/New_Mexico/26/2016</text>
<text transform="matrix(0.935 0.0005 0 1 322.2 446.82)" fill="#222" stroke="#222">B/Tennessee/04/2016</text>
<text transform="matrix(0.935 0.0005 0 1 322.2 451.05)" fill="#222" stroke="#222">B/Texas/13/2016</text>
<text transform="matrix(0.935 0.0005 0 1 322.2 455.28)" fill="#222" stroke="#222">B/Ohio/09/2016</text>
<text transform="matrix(0.935 0.0005 0 1 322.2 459.51)" fill="#222" stroke="#222">B/Florida/78/2015</text>
<text transform="matrix(0.935 0.0005 0 1 322.2 463.74)" fill="#222" stroke="#222">B/Florida/79/2015</text>
<text transform="matrix(0.935 0.0005 0 1 322.2 467.97)" fill="#222" stroke="#222">B/Maryland/03/2016</text>
<text transform="matrix(0.935 0.0005 0 1 322.2 472.20)" fill="#222" stroke="#222">B/New_York/51/2016</text>
<text transform="matrix(0.935 0.0005 0 1 322.2 476.42)" fill="#222" stroke="#222">B/Nigeria/3352/2016</text>
<text transform="matrix(0.935 0.0005 0 1 322.2 480.65)" fill="#222" stroke="#222">B/Brisbane/46/2015</text>
<text transform="matrix(0.935 0.0005 0 1 322.2 484.88)" fill="#222" stroke="#222">B/Florida/103/2016</text>
<text transform="matrix(0.935 0.0005 0 1 322.2 489.11)" fill="#222" stroke="#222">B/Hawaii/47/2016</text>
<text transform="matrix(0.935 0.0005 0 1 322.2 493.34)" fill="#3c3cf0" stroke="#3c3cf0">B/Colorado/06/2017</text>
<text transform="matrix(0.935 0.0005 0 1 322.2 497.57)" fill="#222" stroke="#222">B/Missouri/12/2016</text>
<text transform="matrix(0.935 0.0005 0 1 322.2 501.80)" fill="#222" stroke="#222">B/Hong_Kong/269/2017</text>
<text transform="matrix(0.935 0.0005 0 1 322.2 506.03)" fill="#222" stroke="#222">B/Hong_Kong/286/2017</text>
<text transform="matrix(0.935 0.0005 0 1 322.2 510.26)" fill="#222" stroke="#222">B/Texas/02/2013</text>
<text transform="matrix(0.935 0.0005 0 1 439.8 514.43)" fill="#3c3cf0" stroke="#3c3cf0">B/Brisbane/60/2008</text>
<text transform="matrix(0.935 0.0005 0 1 439.8 518.66)" fill="#222" stroke="#222">B/New_Hampshire/01/2016</text>
<text transform="matrix(0.935 0.0005 0 1 439.8 522.89)" fill="#3c3cf0" stroke="#3c3cf0">B/Phuket/3073/2013</text>
<text transform="matrix(0.935 0.0005 0 1 439.8 527.12)" fill="#222" stroke="#222">B/Texas/81/2016</text>
<text transform="matrix(0.935 0.0005 0 1 439.8 531.35)" fill="#222" stroke="#222">B/Nevada/03/2011</text>
<text transform="matrix(0.935 0.0005 0 1 439.8 535.58)" fill="#222" stroke="#222">B/New_Jersey/01/2012</text>
</g>
<rect x="243.2" y="15.2" width="144.80" height="64.40" fill="rgb(218,84,66)" fill-opacity="0.35"/>
<rect x="243.5" y="15.5" width="144.20" height="63.80" fill="none" stroke="#000" stroke-opacity="0.1" stroke-width="0.6"/>
<rect x="268.5" y="79.6" width="116.20" height="67.70" fill="rgb(55,164,206)" fill-opacity="0.35"/>
<rect x="268.8" y="79.9" width="115.60" height="67.10" fill="none" stroke="#000" stroke-opacity="0.1" stroke-width="0.6"/>
<rect x="216.6" y="151.8" width="170.20" height="58.00" fill="rgb(52,84,115)" fill-opacity="0.35"/>
<rect x="216.9" y="152.1" width="169.60" height="57.40" fill="none" stroke="#000" stroke-opacity="0.1" stroke-width="0.6"/>
<rect x="238.0" y="211.0" width="145.20" height="185.70" fill="rgb(66,89,66)" fill-opacity="0.35"/>
<rect x="238.3" y="211.3" width="144.60" height="185.10" fill="none" stroke="#000" stroke-opacity="0.1" stroke-width="0.6"/>
</svg></body></html>
